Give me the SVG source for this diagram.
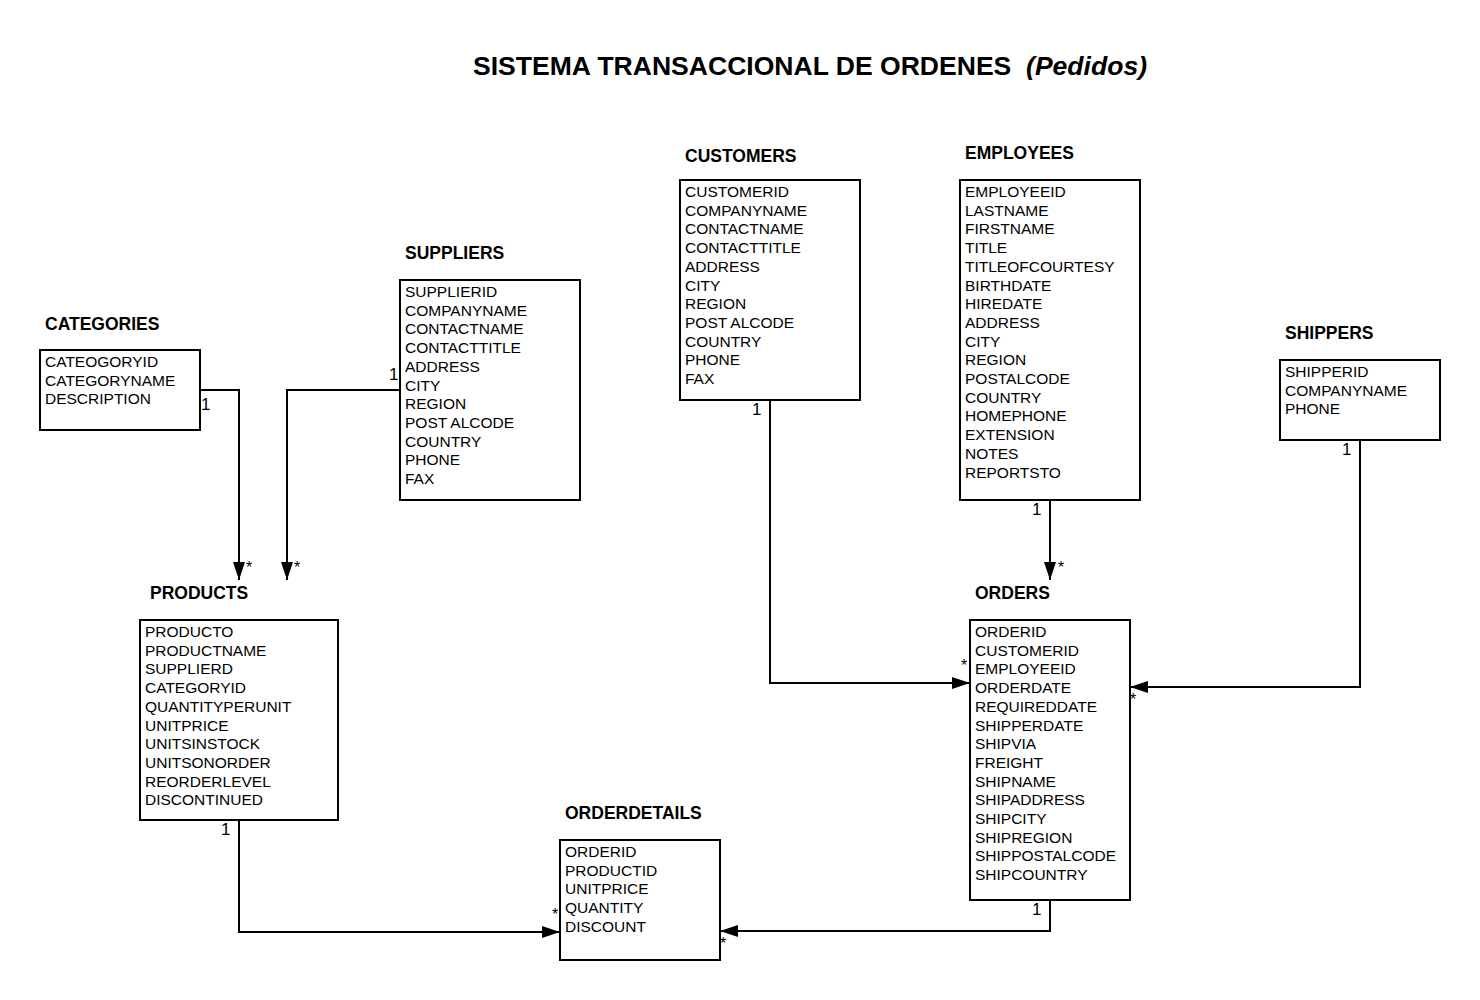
<svg xmlns="http://www.w3.org/2000/svg" width="1480" height="1000" viewBox="0 0 1480 1000">
<style>
.box{fill:#fff;stroke:#000;stroke-width:2}
.hd{font-family:"Liberation Sans",Arial,sans-serif;font-weight:bold;font-size:17.5px;fill:#000}
.f{font-family:"Liberation Sans",Arial,sans-serif;font-size:15.5px;fill:#000}
.c{fill:none;stroke:#000;stroke-width:2}
.m{font-family:"Liberation Sans",Arial,sans-serif;font-size:17px;fill:#000}
.s{font-family:"Liberation Sans",Arial,sans-serif;font-size:16px;fill:#000}
</style>
<defs>
<marker id="arr" viewBox="0 0 18 12" refX="18" refY="6" markerWidth="18" markerHeight="12" markerUnits="userSpaceOnUse" orient="auto">
<path d="M0,0 L18,6 L0,12 Z" fill="#000"/>
</marker>
</defs>
<rect width="1480" height="1000" fill="#fff"/>
<text x="473" y="75" font-family="Liberation Sans,Arial,sans-serif" font-weight="bold" font-size="26" textLength="674" lengthAdjust="spacingAndGlyphs" xml:space="preserve">SISTEMA TRANSACCIONAL DE ORDENES&#160; <tspan font-style="italic">(Pedidos)</tspan></text>

<g id="categories">
<text class="hd" x="45" y="330">CATEGORIES</text>
<rect class="box" x="40" y="350" width="160" height="80"/>
<text class="f" x="45" y="367"><tspan x="45">CATEOGORYID</tspan><tspan x="45" dy="18.7">CATEGORYNAME</tspan><tspan x="45" dy="18.7">DESCRIPTION</tspan></text>
</g>

<g id="suppliers">
<text class="hd" x="405" y="259">SUPPLIERS</text>
<rect class="box" x="400" y="280" width="180" height="220"/>
<text class="f" x="405" y="297"><tspan x="405">SUPPLIERID</tspan><tspan x="405" dy="18.7">COMPANYNAME</tspan><tspan x="405" dy="18.7">CONTACTNAME</tspan><tspan x="405" dy="18.7">CONTACTTITLE</tspan><tspan x="405" dy="18.7">ADDRESS</tspan><tspan x="405" dy="18.7">CITY</tspan><tspan x="405" dy="18.7">REGION</tspan><tspan x="405" dy="18.7">POST ALCODE</tspan><tspan x="405" dy="18.7">COUNTRY</tspan><tspan x="405" dy="18.7">PHONE</tspan><tspan x="405" dy="18.7">FAX</tspan></text>
</g>

<g id="customers">
<text class="hd" x="685" y="162">CUSTOMERS</text>
<rect class="box" x="680" y="180" width="180" height="220"/>
<text class="f" x="685" y="197"><tspan x="685">CUSTOMERID</tspan><tspan x="685" dy="18.7">COMPANYNAME</tspan><tspan x="685" dy="18.7">CONTACTNAME</tspan><tspan x="685" dy="18.7">CONTACTTITLE</tspan><tspan x="685" dy="18.7">ADDRESS</tspan><tspan x="685" dy="18.7">CITY</tspan><tspan x="685" dy="18.7">REGION</tspan><tspan x="685" dy="18.7">POST ALCODE</tspan><tspan x="685" dy="18.7">COUNTRY</tspan><tspan x="685" dy="18.7">PHONE</tspan><tspan x="685" dy="18.7">FAX</tspan></text>
</g>

<g id="employees">
<text class="hd" x="965" y="159">EMPLOYEES</text>
<rect class="box" x="960" y="180" width="180" height="320"/>
<text class="f" x="965" y="197"><tspan x="965">EMPLOYEEID</tspan><tspan x="965" dy="18.7">LASTNAME</tspan><tspan x="965" dy="18.7">FIRSTNAME</tspan><tspan x="965" dy="18.7">TITLE</tspan><tspan x="965" dy="18.7">TITLEOFCOURTESY</tspan><tspan x="965" dy="18.7">BIRTHDATE</tspan><tspan x="965" dy="18.7">HIREDATE</tspan><tspan x="965" dy="18.7">ADDRESS</tspan><tspan x="965" dy="18.7">CITY</tspan><tspan x="965" dy="18.7">REGION</tspan><tspan x="965" dy="18.7">POSTALCODE</tspan><tspan x="965" dy="18.7">COUNTRY</tspan><tspan x="965" dy="18.7">HOMEPHONE</tspan><tspan x="965" dy="18.7">EXTENSION</tspan><tspan x="965" dy="18.7">NOTES</tspan><tspan x="965" dy="18.7">REPORTSTO</tspan></text>
</g>

<g id="shippers">
<text class="hd" x="1285" y="339">SHIPPERS</text>
<rect class="box" x="1280" y="360" width="160" height="80"/>
<text class="f" x="1285" y="377"><tspan x="1285">SHIPPERID</tspan><tspan x="1285" dy="18.7">COMPANYNAME</tspan><tspan x="1285" dy="18.7">PHONE</tspan></text>
</g>

<g id="products">
<text class="hd" x="150" y="599">PRODUCTS</text>
<rect class="box" x="140" y="620" width="198" height="200"/>
<text class="f" x="145" y="637"><tspan x="145">PRODUCTO</tspan><tspan x="145" dy="18.7">PRODUCTNAME</tspan><tspan x="145" dy="18.7">SUPPLIERD</tspan><tspan x="145" dy="18.7">CATEGORYID</tspan><tspan x="145" dy="18.7">QUANTITYPERUNIT</tspan><tspan x="145" dy="18.7">UNITPRICE</tspan><tspan x="145" dy="18.7">UNITSINSTOCK</tspan><tspan x="145" dy="18.7">UNITSONORDER</tspan><tspan x="145" dy="18.7">REORDERLEVEL</tspan><tspan x="145" dy="18.7">DISCONTINUED</tspan></text>
</g>

<g id="orders">
<text class="hd" x="975" y="599">ORDERS</text>
<rect class="box" x="970" y="620" width="160" height="280"/>
<text class="f" x="975" y="637"><tspan x="975">ORDERID</tspan><tspan x="975" dy="18.7">CUSTOMERID</tspan><tspan x="975" dy="18.7">EMPLOYEEID</tspan><tspan x="975" dy="18.7">ORDERDATE</tspan><tspan x="975" dy="18.7">REQUIREDDATE</tspan><tspan x="975" dy="18.7">SHIPPERDATE</tspan><tspan x="975" dy="18.7">SHIPVIA</tspan><tspan x="975" dy="18.7">FREIGHT</tspan><tspan x="975" dy="18.7">SHIPNAME</tspan><tspan x="975" dy="18.7">SHIPADDRESS</tspan><tspan x="975" dy="18.7">SHIPCITY</tspan><tspan x="975" dy="18.7">SHIPREGION</tspan><tspan x="975" dy="18.7">SHIPPOSTALCODE</tspan><tspan x="975" dy="18.7">SHIPCOUNTRY</tspan></text>
</g>

<g id="orderdetails">
<text class="hd" x="565" y="819">ORDERDETAILS</text>
<rect class="box" x="560" y="840" width="160" height="120"/>
<text class="f" x="565" y="857"><tspan x="565">ORDERID</tspan><tspan x="565" dy="18.7">PRODUCTID</tspan><tspan x="565" dy="18.7">UNITPRICE</tspan><tspan x="565" dy="18.7">QUANTITY</tspan><tspan x="565" dy="18.7">DISCOUNT</tspan></text>
</g>

<g id="connectors">
<path class="c" d="M200,390 H239 V580" marker-end="url(#arr)"/>
<path class="c" d="M400,390 H287 V580" marker-end="url(#arr)"/>
<path class="c" d="M770,400 V683 H970" marker-end="url(#arr)"/>
<path class="c" d="M1050,500 V580" marker-end="url(#arr)"/>
<path class="c" d="M1360,440 V687 H1130" marker-end="url(#arr)"/>
<path class="c" d="M239,820 V932 H560" marker-end="url(#arr)"/>
<path class="c" d="M1050,900 V931 H720" marker-end="url(#arr)"/>
<text class="m" x="201" y="410">1</text>
<text class="s" x="246" y="573">*</text>
<text class="m" x="389" y="380">1</text>
<text class="s" x="294" y="573">*</text>
<text class="m" x="752" y="415">1</text>
<text class="s" x="961" y="671">*</text>
<text class="m" x="1032" y="515">1</text>
<text class="s" x="1058" y="573">*</text>
<text class="m" x="1342" y="455">1</text>
<text class="s" x="1130" y="705">*</text>
<text class="m" x="221" y="835">1</text>
<text class="s" x="552" y="920">*</text>
<text class="m" x="1032" y="915">1</text>
<text class="s" x="720" y="949">*</text>
</g>
</svg>
